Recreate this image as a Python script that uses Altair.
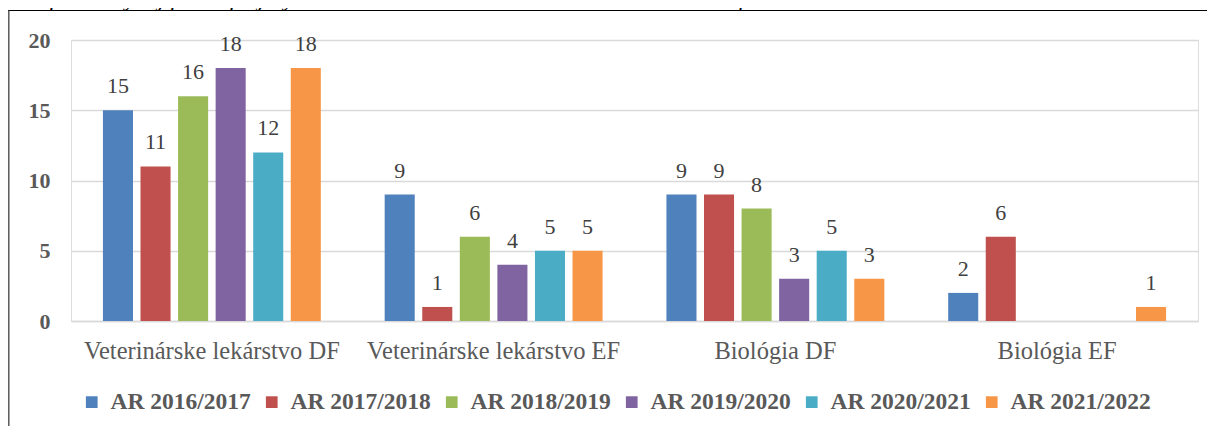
import altair as alt
import pandas as pd

categories = ["Veterinárske lekárstvo DF", "Veterinárske lekárstvo EF", "Biológia DF", "Biológia EF"]
series = ["AR 2016/2017", "AR 2017/2018", "AR 2018/2019", "AR 2019/2020", "AR 2020/2021", "AR 2021/2022"]
colors = ["#4F81BD", "#C0504D", "#9BBB59", "#8064A2", "#4BACC6", "#F79646"]
values = {
    "AR 2016/2017": [15, 9, 9, 2],
    "AR 2017/2018": [11, 1, 9, 6],
    "AR 2018/2019": [16, 6, 8, None],
    "AR 2019/2020": [18, 4, 3, None],
    "AR 2020/2021": [12, 5, 5, None],
    "AR 2021/2022": [18, 5, 3, 1],
}
y_ticks = [0, 5, 10, 15, 20]
title_text = "Graf 5.3a Vývoj počtu prijatých uchádzačov o štúdium na UVLF v SP 3. stupňa"

rows = []
for s in series:
    for c, v in zip(categories, values[s]):
        if v is not None:
            rows.append({"cat": c, "series": s, "value": v})
df = pd.DataFrame(rows)

FONT = "Liberation Serif"

x_enc = alt.X("cat:N", sort=categories, title=None,
              scale=alt.Scale(paddingInner=0.2, paddingOuter=0.1),
              axis=alt.Axis(labelAngle=0, labelFont=FONT, labelFontSize=24.5,
                            labelColor="#595959", labelBaseline="alphabetic",
                            labelPadding=37, labelLimit=0, ticks=False, tickSize=0,
                            domain=True, domainColor="#D9D9D9", domainWidth=1.5,
                            grid=False))
xoff = alt.XOffset("series:N", sort=series,
                   scale=alt.Scale(paddingInner=0.2, paddingOuter=0.1))
y_enc = alt.Y("value:Q", title=None,
              scale=alt.Scale(domain=[0, 20], nice=False),
              axis=alt.Axis(values=y_ticks, labelFont=FONT, labelFontSize=22,
                            labelFontWeight="bold", labelColor="#595959",
                            labelPadding=21, ticks=False, tickSize=0, domain=False,
                            gridColor="#D9D9D9", gridWidth=1.5))

bars = alt.Chart(df).mark_bar().encode(
    x=x_enc, xOffset=xoff, y=y_enc,
    color=alt.Color("series:N", sort=series,
                    scale=alt.Scale(domain=series, range=colors),
                    legend=alt.Legend(title=None, orient="none", direction="horizontal",
                                      columns=6, legendX=9, legendY=350, padding=0,
                                      symbolType="square", symbolSize=137,
                                      symbolStrokeWidth=0, labelOffset=7,
                                      columnPadding=9, labelFont=FONT,
                                      labelFontSize=23.5, labelFontWeight="bold",
                                      labelLimit=0, labelColor="#595959")),
)

labels = alt.Chart(df).mark_text(font=FONT, fontSize=22, color="#404040",
                                 baseline="alphabetic", dy=-17).encode(
    x=alt.X("cat:N", sort=categories),
    xOffset=alt.XOffset("series:N", sort=series),
    y="value:Q",
    text="value:Q",
)

one = pd.DataFrame({"a": [0]})
top_line = alt.Chart(one).mark_rule(color="#000000", strokeWidth=1).encode(
    x=alt.value(-63), x2=alt.value(1136), y=alt.value(-29.5))
left_line = alt.Chart(one).mark_rule(color="#595959", strokeWidth=1.5).encode(
    x=alt.value(-62.2), y=alt.value(-29.5), y2=alt.value(390))
title = alt.Chart(one).mark_text(font=FONT, fontSize=24, fontStyle="italic",
                                 color="#000000", align="left",
                                 baseline="alphabetic").encode(
    x=alt.value(-60), y=alt.value(-34), text=alt.value(title_text))

chart = alt.layer(bars, labels, top_line, left_line, title).properties(
    width=1127, height=281,
    autosize=alt.AutoSizeParams(type="none"),
    padding={"left": 63, "top": 32, "right": 9, "bottom": 105},
).configure_view(stroke=None).configure(background="#ffffff")

chart.save("out.html", embed_options={"renderer": "svg", "actions": False})
